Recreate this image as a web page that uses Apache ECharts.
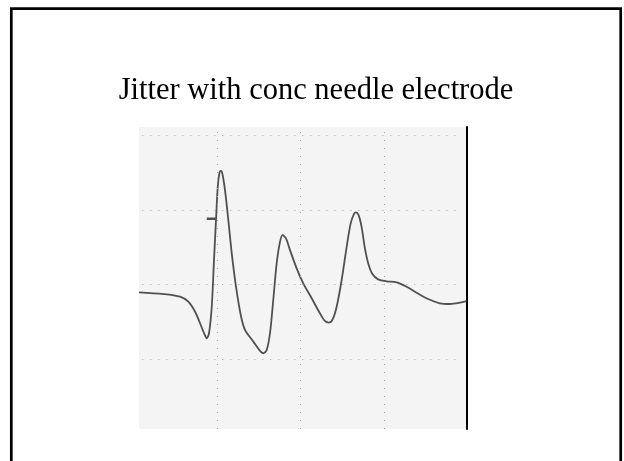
<!DOCTYPE html>
<html>
<head>
<meta charset="utf-8">
<title>Jitter with conc needle electrode</title>
<script src="https://cdn.jsdelivr.net/npm/echarts@6/dist/echarts.min.js"></script>
<style>
  html, body { margin: 0; padding: 0; background: #ffffff; }
  #chart { width: 624px; height: 461px; }
</style>
</head>
<body>
<div id="chart"></div>
<script>
// Time in screen divisions (0 = first vertical graticule line), amplitude in divisions.
const traceTime = [
  -0.94, -0.647, -0.447, -0.348, -0.267, -0.207, -0.159, -0.127, -0.100, -0.067,
  -0.040, -0.016, 0.005, 0.024, 0.041, 0.060, 0.092, 0.132, 0.173, 0.224,
  0.281, 0.332, 0.432, 0.512, 0.552, 0.592, 0.632, 0.671, 0.712, 0.752,
  0.784, 0.824, 0.872, 0.952, 1.031, 1.132, 1.231, 1.291, 1.339, 1.384,
  1.432, 1.492, 1.552, 1.600, 1.639, 1.663, 1.695, 1.731, 1.771, 1.811,
  1.863, 1.930, 2.031, 2.151, 2.271, 2.391, 2.530, 2.670, 2.790, 2.910, 2.99
];
const traceAmp = [
  -0.107, -0.130, -0.166, -0.233, -0.367, -0.522, -0.656, -0.723, -0.656, -0.300,
  0.325, 0.861, 1.307, 1.486, 1.521, 1.486, 1.262, 0.861, 0.415, -0.032,
  -0.411, -0.612, -0.768, -0.893, -0.924, -0.880, -0.656, -0.210, 0.281, 0.570,
  0.660, 0.616, 0.459, 0.214, 0.013, -0.187, -0.388, -0.491, -0.514, -0.469,
  -0.300, 0.058, 0.503, 0.817, 0.941, 0.964, 0.928, 0.771, 0.482, 0.281,
  0.134, 0.067, 0.040, 0.027, -0.032, -0.112, -0.197, -0.254, -0.264, -0.246, -0.224
];
// Trigger level cursor
const cursorTime = [-0.127, -0.019];
const cursorAmp = [0.878, 0.878];
// Graticule positions
const gridTimes = [0, 1, 2];
const gridAmps = [2, 1, 0, -1];

const trace = traceTime.map((t, i) => [t, traceAmp[i]]);
const cursor = cursorTime.map((t, i) => [t, cursorAmp[i]]);

const dotted = { color: '#a8a8a8', width: 1, type: [1, 7] };

const chart = echarts.init(document.getElementById('chart'), null, { renderer: 'canvas' });
chart.setOption({
  animation: false,
  backgroundColor: '#ffffff',
  title: {
    text: 'Jitter with conc needle electrode',
    left: 311,
    top: 70,
    textAlign: 'center',
    textStyle: {
      fontFamily: 'Liberation Serif, Times New Roman, serif',
      fontSize: 30.5,
      fontWeight: 'normal',
      color: '#000000'
    }
  },
  graphic: [{
    type: 'rect',
    shape: { x: 11.3, y: 8.7, width: 609.4, height: 470 },
    style: { fill: 'none', stroke: '#000000', lineWidth: 2.7 },
    silent: true
  }],
  grid: {
    left: 139,
    right: 157.5,
    top: 127,
    bottom: 32,
    show: true,
    backgroundColor: '#f4f4f4',
    borderWidth: 0
  },
  xAxis: {
    type: 'value',
    min: -0.94,
    max: 2.99,
    axisLine: { show: false },
    axisTick: { show: false },
    axisLabel: { show: false },
    splitLine: { show: false }
  },
  yAxis: [{
    type: 'value',
    min: -1.94,
    max: 2.11,
    axisLine: { show: false },
    axisTick: { show: false },
    axisLabel: { show: false },
    splitLine: { show: false }
  }, {
    type: 'value',
    position: 'right',
    min: -1.94,
    max: 2.11,
    axisLine: { show: true, lineStyle: { color: '#000000', width: 2 } },
    axisTick: { show: false },
    axisLabel: { show: false },
    splitLine: { show: false }
  }],
  series: [{
    name: 'graticule',
    type: 'line',
    data: [],
    silent: true,
    markLine: {
      silent: true,
      symbol: 'none',
      label: { show: false },
      lineStyle: dotted,
      data: [
        ...gridTimes.map(t => ({ xAxis: t })),
        ...gridAmps.map(a => [{ coord: [-0.9, a] }, { coord: [2.93, a] }])
      ]
    }
  }, {
    name: 'cursor',
    type: 'line',
    data: cursor,
    symbol: 'none',
    silent: true,
    lineStyle: { color: '#505050', width: 2.5 }
  }, {
    name: 'trace',
    type: 'line',
    data: trace,
    symbol: 'none',
    smooth: 0.3,
    silent: true,
    lineStyle: { color: '#505050', width: 1.8 }
  }]
});
</script>
</body>
</html>
